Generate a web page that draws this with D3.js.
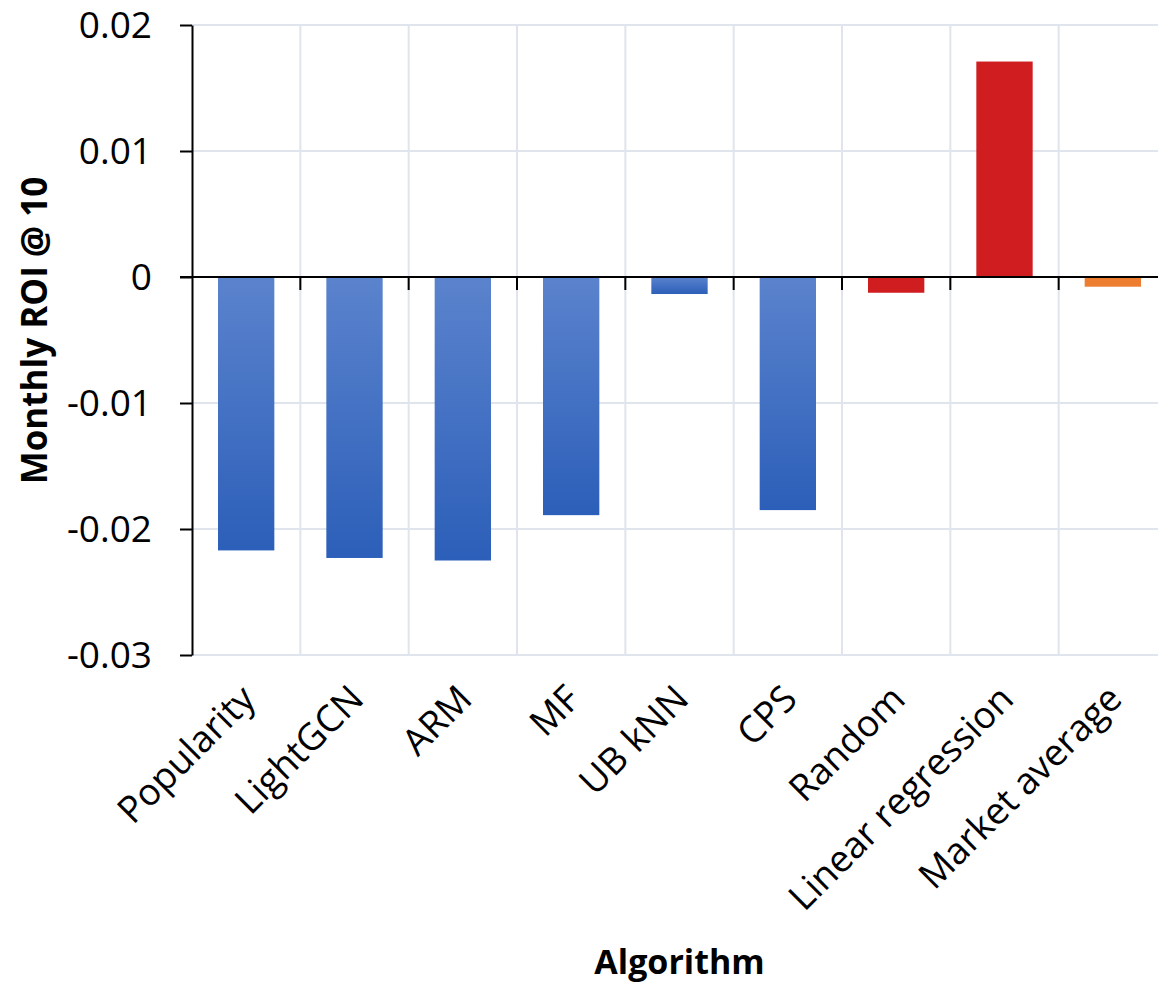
<!DOCTYPE html>
<html>
<head>
<meta charset="utf-8">
<script src="https://cdn.jsdelivr.net/npm/d3@7"></script>
<style>
  html, body { margin: 0; padding: 0; background: #fff; }
  svg { display: block; }
  text { font-family: "Open Sans", "Noto Sans", sans-serif; fill: #000; }
</style>
</head>
<body>
<svg id="chart" width="1158" height="983"></svg>
<script>
// Monthly ROI @ 10 per recommendation algorithm
const categories = ["Popularity", "LightGCN", "ARM", "MF", "UB kNN", "CPS", "Random", "Linear regression", "Market average"];
const roi = [-0.0217, -0.0223, -0.0225, -0.0189, -0.00135, -0.0185, -0.00125, 0.0171, -0.00077];
// group of each algorithm: recommender, baseline, market reference
const groups = ["rec", "rec", "rec", "rec", "rec", "rec", "base", "base", "market"];
const yTicks = [0.02, 0.01, 0, -0.01, -0.02, -0.03];
const yTickLabels = ["0.02", "0.01", "0", "-0.01", "-0.02", "-0.03"];

const svg = d3.select("#chart");
const plotLeft = 192, plotRight = 1167, plotTop = 25, plotBottom = 655;

const x = d3.scaleBand().domain(categories).range([plotLeft, plotRight]).paddingInner(0.48).paddingOuter(0.24);
const xEdge = d3.scaleLinear().domain([0, categories.length]).range([plotLeft, plotRight]);
const y = d3.scaleLinear().domain([-0.03, 0.02]).range([plotBottom, plotTop]);

// bar gradient for the recommender group
const defs = svg.append("defs");
const grad = defs.append("linearGradient").attr("id", "blueGrad")
  .attr("x1", 0).attr("y1", 0).attr("x2", 0).attr("y2", 1);
grad.append("stop").attr("offset", "0%").attr("stop-color", "#5b83cd");
grad.append("stop").attr("offset", "100%").attr("stop-color", "#2c5fb9");

const fillFor = g => g === "rec" ? "url(#blueGrad)" : g === "base" ? "#cf1d20" : "#ed7d31";

// gridlines
const grid = svg.append("g");
grid.selectAll("line.h").data(yTicks.filter(t => t !== 0)).join("line")
  .attr("class", "h")
  .attr("x1", plotLeft).attr("x2", plotRight)
  .attr("y1", d => y(d)).attr("y2", d => y(d))
  .attr("stroke", "#e0e4ec").attr("stroke-width", 2);
grid.selectAll("line.v").data(d3.range(1, categories.length + 1)).join("line")
  .attr("class", "v")
  .attr("x1", d => xEdge(d)).attr("x2", d => xEdge(d))
  .attr("y1", plotTop).attr("y2", plotBottom)
  .attr("stroke", "#e0e4ec").attr("stroke-width", 2);

// bars
svg.append("g").selectAll("rect").data(categories).join("rect")
  .attr("x", d => x(d))
  .attr("width", x.bandwidth())
  .attr("y", (d, i) => y(Math.max(0, roi[i])))
  .attr("height", (d, i) => Math.abs(y(roi[i]) - y(0)))
  .attr("fill", (d, i) => fillFor(groups[i]));

// y axis
const yAxis = d3.axisLeft(y).tickValues(yTicks)
  .tickFormat((d, i) => yTickLabels[i]).tickSize(12).tickSizeOuter(0);
const gy = svg.append("g").attr("transform", `translate(${plotLeft},0)`).call(yAxis);
gy.select(".domain").attr("stroke", "#000").attr("stroke-width", 2);
gy.selectAll(".tick line").attr("stroke", "#000").attr("stroke-width", 2);
gy.selectAll(".tick text").attr("x", -40).attr("dy", "0.34em")
  .style("font-size", "37px").style("font-family", "'Open Sans', sans-serif").attr("fill", "#000");

// x axis along zero
const gx = svg.append("g");
gx.append("line").attr("x1", plotLeft - 12).attr("x2", plotRight)
  .attr("y1", y(0)).attr("y2", y(0)).attr("stroke", "#000").attr("stroke-width", 2);
gx.selectAll("line.tick").data(d3.range(1, categories.length + 1)).join("line")
  .attr("class", "tick")
  .attr("x1", d => xEdge(d)).attr("x2", d => xEdge(d))
  .attr("y1", y(0)).attr("y2", y(0) + 13)
  .attr("stroke", "#000").attr("stroke-width", 2);

// category labels
svg.append("g").selectAll("text").data(categories).join("text")
  .attr("transform", d => `translate(${x(d) + x.bandwidth() / 2 + 2},${plotBottom + 37}) rotate(-45)`)
  .attr("text-anchor", "end")
  .attr("dy", "0.35em")
  .style("font-size", "37px")
  .text(d => d);

// axis titles
svg.append("text")
  .attr("transform", `translate(47,${(178 + 483) / 2}) rotate(-90)`)
  .attr("text-anchor", "middle")
  .style("font-size", "35px").style("font-weight", "bold")
  .text("Monthly ROI @ 10");

svg.append("text")
  .attr("x", (plotLeft + plotRight) / 2).attr("y", 974)
  .attr("text-anchor", "middle")
  .style("font-size", "34px").style("font-weight", "bold")
  .text("Algorithm");
</script>
</body>
</html>
